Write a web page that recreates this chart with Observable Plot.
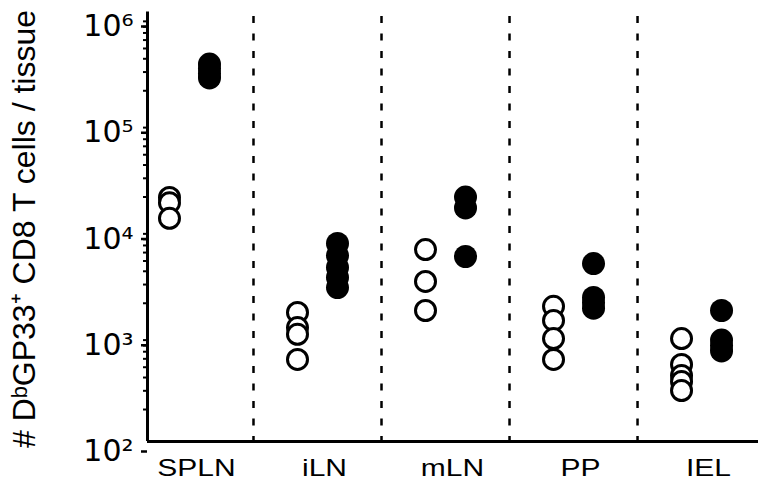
<!DOCTYPE html>
<html><head><meta charset="utf-8">
<script src="https://cdn.jsdelivr.net/npm/d3@7"></script>
<script src="https://cdn.jsdelivr.net/npm/@observablehq/plot@0.6"></script>
<style>body{margin:0;background:#fff}</style>
</head><body><div id="chart"></div>
<script>
const categories = ["SPLN", "iLN", "mLN", "PP", "IEL"];
const openValues = [
  [19800, 17700, 12600],
  [1640, 1180, 1020, 592],
  [6410, 3210, 1710],
  [1870, 1380, 931, 592],
  [931, 531, 418, 367, 302]
];
const filledValues = [
  [357000, 324000, 291000, 264000],
  [7310, 5630, 4350, 3500, 2810],
  [20000, 15800, 5510],
  [4730, 2270, 2030, 1800],
  [1710, 902, 801, 711]
];
const yTicks = [1e2, 1e3, 1e4, 1e5, 1e6];
const yTickLabels = ["10²", "10³", "10⁴", "10⁵", "10⁶"];
const yLabel = "# DᵇGP33⁺ CD8 T cells / tissue";
const separators = [0.5, 1.5, 2.5, 3.5];
const xDomain = [-0.328, 4.445];

const openData = categories.flatMap((c, i) => openValues[i].map(v => ({group: i, value: v})));
const filledData = categories.flatMap((c, i) => filledValues[i].map(v => ({group: i, value: v})));
const minorTicks = [2, 3, 4, 5].flatMap(e => [2, 3, 4, 5, 6, 7, 8, 9].map(m => m * 10 ** e));

const chart = Plot.plot({
  width: 758,
  height: 484,
  marginLeft: 147,
  marginRight: 0,
  marginTop: 16,
  marginBottom: 43,
  style: {fontFamily: "DejaVu Sans", background: "#fff", color: "#000"},
  x: {type: "linear", domain: xDomain, axis: null},
  y: {type: "log", domain: [1e2, 1e6], axis: null},
  marks: [
    Plot.ruleX(separators, {stroke: "#000", strokeWidth: 2.5, strokeDasharray: "7,10.5"}),
    Plot.axisY({ticks: minorTicks, tickSize: 4, tickFormat: () => "", strokeWidth: 2, label: null}),
    Plot.axisY({ticks: yTicks, tickSize: 6, tickPadding: 8, strokeWidth: 2.5,
      tickFormat: d => yTickLabels[yTicks.indexOf(d)], fontSize: 30, fontFamily: "DejaVu Sans",
      dy: 10, label: null}),
    Plot.axisX({ticks: [0, 1, 2, 3, 4], tickSize: 0, tickPadding: 17,
      tickFormat: i => categories[i], fontSize: 24, fontFamily: "Liberation Sans", dx: 7, label: null}),
    Plot.text([yLabel], {frameAnchor: "left", textAnchor: "middle", lineAnchor: "middle", rotate: -90, dx: -123, fontSize: 32,
      fontFamily: "Liberation Sans", fill: "#000"}),
    Plot.ruleY([1e2], {stroke: "#000", strokeWidth: 3}),
    Plot.ruleX([xDomain[0]], {stroke: "#000", strokeWidth: 3, y1: 1e2, y2: 1.1e6}),
    Plot.dot(openData, {x: "group", y: "value", r: 10, fill: "#fff", stroke: "#000", strokeWidth: 3, dx: -20}),
    Plot.dot(filledData, {x: "group", y: "value", r: 11.5, fill: "#000", stroke: "none", dx: 20})
  ]
});
document.getElementById("chart").appendChild(chart);
d3.select(chart).selectAll('g[aria-label="x-axis tick label"] text').each(function() {
  const t = this.getAttribute("transform");
  if (t) this.setAttribute("transform", t + " scale(1.25,1)");
});
</script>
</body></html>
